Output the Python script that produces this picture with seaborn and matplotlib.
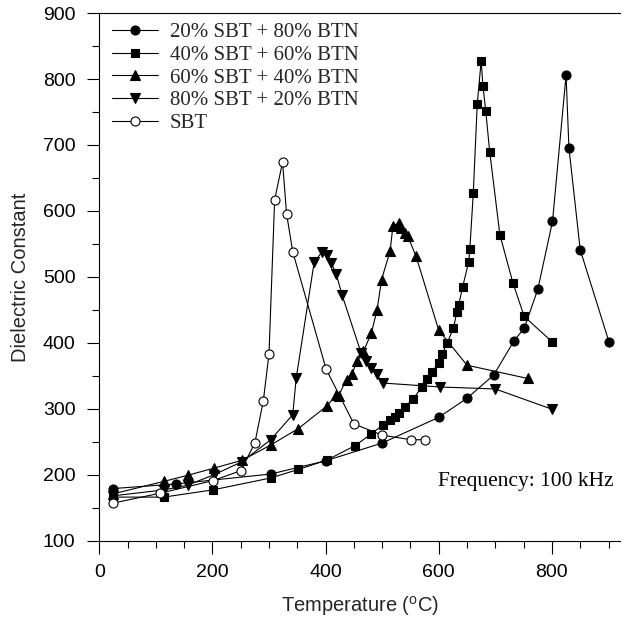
import matplotlib
matplotlib.use("Agg")
import matplotlib.pyplot as plt
import seaborn as sns
import pandas as pd
from matplotlib.ticker import MultipleLocator

# ---- data ----
labels = ["20% SBT + 80% BTN", "40% SBT + 60% BTN", "60% SBT + 40% BTN",
          "80% SBT + 20% BTN", "SBT"]

t20 = [25, 136, 303, 400, 500, 600, 650, 697, 733, 751, 775, 801, 825, 830, 850, 901]
e20 = [179, 186, 201, 221, 248, 287, 316, 351, 403, 422, 481, 584, 806, 696, 541, 401]

t40 = [25, 114, 201, 303, 352, 402, 452, 481, 502, 514, 522, 529, 540, 555, 570, 579,
       588, 600, 606, 615, 626, 632, 635, 642, 653, 655, 661, 668, 675, 678, 683, 690,
       708, 731, 751, 801]
e40 = [166, 166, 177, 195, 208, 222, 244, 262, 276, 283, 287, 293, 303, 315, 333, 345,
       356, 369, 383, 400, 422, 447, 457, 484, 523, 543, 627, 762, 828, 790, 752, 690,
       564, 491, 440, 401]

t60 = [25, 115, 156, 203, 253, 303, 352, 402, 419, 423, 437, 446, 456, 467, 481, 491,
       499, 514, 519, 530, 534, 541, 545, 560, 600, 650, 757]
e60 = [171, 190, 199, 210, 222, 245, 270, 304, 321, 320, 344, 352, 372, 387, 415, 450,
       496, 539, 577, 582, 574, 566, 562, 531, 419, 366, 346]

t80 = [25, 115, 156, 203, 253, 303, 342, 348, 380, 394, 403, 410, 419, 429, 463, 472,
       481, 490, 501, 603, 700, 801]
e80 = [168, 177, 184, 200, 220, 253, 291, 346, 523, 538, 533, 521, 504, 473, 384, 372,
       362, 352, 339, 333, 330, 299]

tS = [25, 108, 201, 250, 275, 290, 300, 310, 324, 331, 342, 401, 450, 500, 551, 575]
eS = [157, 172, 191, 206, 248, 312, 383, 617, 674, 596, 538, 360, 277, 260, 253, 253]

xticks = [0, 200, 400, 600, 800]
yticks = [100, 200, 300, 400, 500, 600, 700, 800, 900]

series = [(t20, e20, "o", "black"), (t40, e40, "s", "black"), (t60, e60, "^", "black"),
          (t80, e80, "v", "black"), (tS, eS, "o", "white")]
msizes = [6.5, 5.5, 6.5, 6.5, 6.5]

sns.set_theme(style="ticks")
plt.rcParams["font.family"] = ["Liberation Sans", "DejaVu Sans"]
plt.rcParams["mathtext.fontset"] = "custom"
plt.rcParams["mathtext.rm"] = "Liberation Sans"

fig = plt.figure(figsize=(6.28, 6.25), dpi=100)
ax = fig.add_axes([0.158, 0.135, 0.829, 0.844])

for (t, e, m, fc), lab, ms in zip(series, labels, msizes):
    df = pd.DataFrame({"T": t, "E": e})
    sns.lineplot(data=df, x="T", y="E", ax=ax, sort=False, estimator=None,
                 color="black", linewidth=0.8, marker=m, markersize=ms,
                 markerfacecolor=fc, markeredgecolor="black", markeredgewidth=0.8,
                 label=lab)

ax.set_xlim(0, 920)
ax.set_ylim(100, 900)
ax.set_xticks(xticks)
ax.set_yticks(yticks)
ax.xaxis.set_minor_locator(MultipleLocator(50))
ax.yaxis.set_minor_locator(MultipleLocator(50))
ax.tick_params(which="major", direction="out", length=9, width=0.8, labelsize=14, pad=8,
               color="black", labelcolor="black")
ax.tick_params(which="minor", direction="out", length=5, width=0.8, color="black")
for s in ["left", "bottom", "top"]:
    ax.spines[s].set_color("black")
    ax.spines[s].set_linewidth(0.8)
ax.spines["right"].set_visible(False)

ax.set_xlabel("Temperature ($^{\\rm o}$C)", fontsize=14.5, labelpad=9)
ax.set_ylabel("Dielectric Constant", fontsize=14.5, labelpad=9)

leg = ax.legend(loc="upper left", bbox_to_anchor=(0.024, 0.982), frameon=False,
                prop={"family": "Liberation Serif", "size": 15},
                handlelength=2.2, handletextpad=0.6, labelspacing=0.15,
                borderpad=0, borderaxespad=0)

ax.text(908, 190, "Frequency: 100 kHz", ha="right", va="center",
        fontsize=15.5, family="Liberation Serif", color="black")

fig.savefig("out.png", dpi=100)
